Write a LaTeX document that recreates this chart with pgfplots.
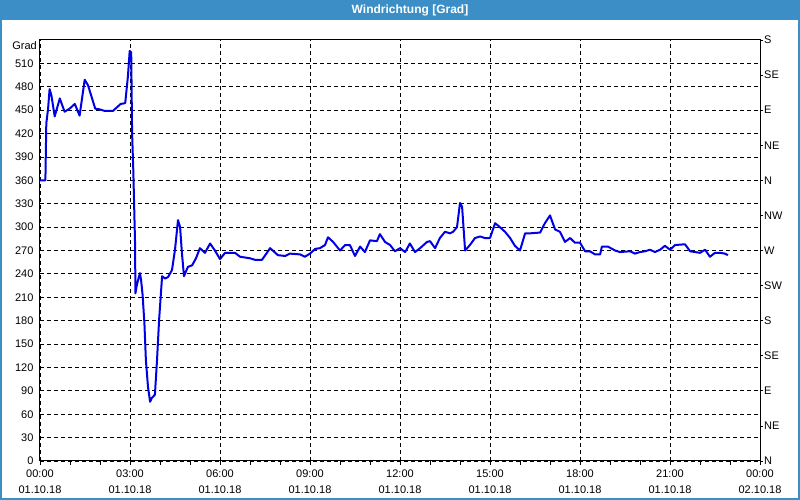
\documentclass[border=0pt]{standalone}
\usepackage{pgfplots}
\pgfplotsset{compat=1.18}
\usepackage{fontspec}
\setmainfont{Liberation Sans}
\definecolor{barblue}{RGB}{60,143,198}
\definecolor{lineblue}{RGB}{0,0,230}
\begin{document}
\begin{tikzpicture}[x=1pt,y=1pt]
\fill[white] (0,0) rectangle (800,500);
\fill[barblue] (0,480) rectangle (800,500);
\draw[barblue, line width=2pt] (1,1) rectangle (799,499);
\node[white, font=\bfseries\fontsize{12}{14}\selectfont] at (410,490) {Windrichtung [Grad]};
\node[anchor=east, font=\fontsize{11}{13}\selectfont, inner sep=0pt] at (37,454) {Grad};
\begin{axis}[
  at={(40pt,39pt)}, anchor=south west,
  scale only axis, width=720pt, height=421pt,
  xmin=0, xmax=24, ymin=0, ymax=540,
  xtick={0,3,...,24},
  xticklabels={{00:00\\01.10.18},{03:00\\01.10.18},{06:00\\01.10.18},{09:00\\01.10.18},{12:00\\01.10.18},{15:00\\01.10.18},{18:00\\01.10.18},{21:00\\01.10.18},{00:00\\02.10.18}},
  xticklabel style={align=center, font=\fontsize{11}{16}\selectfont, yshift=-1pt},
  minor x tick num=2,
  ytick={0,30,...,510},
  yticklabel style={font=\fontsize{11}{13}\selectfont, xshift=1pt},
  /pgf/number format/assume math mode=true,
  xtick pos=bottom, ytick pos=left,
  tick align=outside,
  major tick length=4pt, minor tick length=4pt,
  ytick style={draw=none},
  xtick style={black, line width=0.8pt},
  minor x tick style={black, line width=0.8pt},
  grid=major,
  major grid style={black, dash pattern=on 4pt off 3pt, line width=0.8pt},
  axis line style={black, line width=1pt},
  clip=true,
]
\addplot[lineblue, line width=2pt, no marks, line join=round] coordinates {
(0,360) (0.18,360) (0.21,433) (0.27,452) (0.32,477) (0.38,469) (0.49,442)
(0.66,465) (0.82,448) (0.99,452) (1.16,458) (1.32,443) (1.49,489) (1.6,482)
(1.84,452) (1.99,451) (2.16,449) (2.43,449) (2.69,458) (2.84,459) (2.93,493)
(2.99,526) (3.04,524) (3.07,420) (3.11,373) (3.17,277) (3.18,215) (3.23,226)
(3.33,241) (3.37,232) (3.42,213) (3.48,177) (3.53,129) (3.6,95) (3.67,76)
(3.73,81) (3.83,85) (3.9,129) (3.97,181) (4.07,237) (4.17,234) (4.27,236)
(4.4,245) (4.5,271) (4.6,309) (4.67,300) (4.73,267) (4.8,237) (4.93,249)
(5.07,251) (5.2,260) (5.33,273) (5.5,267) (5.67,279) (5.83,270) (6.0,259)
(6.17,267) (6.5,267) (6.67,262) (7.0,260) (7.17,258) (7.4,258) (7.67,273)
(7.93,264) (8.17,263) (8.33,266) (8.67,265) (8.83,262) (9.0,266) (9.17,272)
(9.33,273) (9.5,277) (9.6,287) (9.77,281) (10.0,270) (10.17,277) (10.33,277)
(10.5,263) (10.67,275) (10.83,268) (11.0,283) (11.23,282) (11.33,291)
(11.5,281) (11.67,277) (11.83,269) (12.0,273) (12.17,268) (12.33,279)
(12.5,268) (12.67,273) (12.9,281) (13.0,282) (13.17,273) (13.33,286)
(13.5,294) (13.67,292) (13.77,294) (13.9,300) (14.0,331) (14.07,326)
(14.17,270) (14.33,277) (14.5,286) (14.67,288) (14.83,286) (15.0,286)
(15.17,305) (15.33,300) (15.5,294) (15.67,286) (15.83,276) (16.0,270)
(16.17,292) (16.33,292) (16.67,293) (16.83,305) (17.0,315) (17.17,297)
(17.33,294) (17.5,281) (17.67,286) (17.83,280) (18.0,280) (18.17,269)
(18.33,269) (18.5,265) (18.67,265) (18.73,275) (18.93,275) (19.17,270)
(19.33,268) (19.67,269) (19.83,266) (20.0,268) (20.17,269) (20.33,271)
(20.5,268) (20.67,271) (20.83,276) (21.0,271) (21.17,277) (21.5,278)
(21.67,269) (22.0,267) (22.17,271) (22.33,262) (22.5,267) (22.67,267)
(22.83,266) (22.93,264)
};
\end{axis}
\begin{axis}[
  at={(40pt,39pt)}, anchor=south west,
  scale only axis, width=720pt, height=421pt,
  xmin=0, xmax=24, ymin=0, ymax=540,
  axis x line=none, axis y line*=right,
  ytick={0,45,...,540},
  yticklabels={N,NE,E,SE,S,SW,W,NW,N,NE,E,SE,S},
  yticklabel style={font=\fontsize{11}{13}\selectfont, inner sep=1pt},
  tick align=outside, major tick length=3pt,
  ytick style={black, line width=0.8pt},
  axis line style={black, line width=1pt},
]
\end{axis}
\end{tikzpicture}
\end{document}
